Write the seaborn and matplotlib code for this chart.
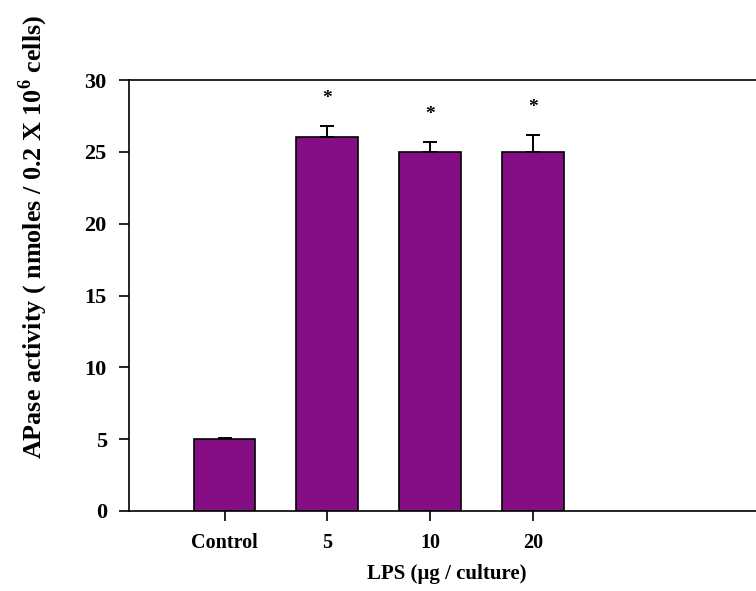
import matplotlib
matplotlib.use("Agg")
import matplotlib.pyplot as plt
import seaborn as sns
import pandas as pd

# LPS dose groups and measured APase activity (mean, upper SD)
groups = ["Control", "5", "10", "20"]
activity = [5.0, 26.0, 25.0, 25.0]
sd = [0.1, 0.8, 0.7, 1.2]
significant = [False, True, True, True]
y_ticks = [0, 5, 10, 15, 20, 25, 30]

sns.set_theme(style="white")
plt.rcParams["font.family"] = ["Liberation Serif", "DejaVu Serif"]
plt.rcParams["font.weight"] = "bold"
plt.rcParams["mathtext.fontset"] = "custom"
plt.rcParams["mathtext.rm"] = "Liberation Serif:bold"
plt.rcParams["mathtext.bf"] = "Liberation Serif:bold"

df = pd.DataFrame({"group": groups, "activity": activity, "sd": sd})

fig = plt.figure(figsize=(7.56, 5.91), dpi=100)
ax = fig.add_axes([0.1706, 0.1354, 0.84, 0.7292])

sns.barplot(data=df, x="group", y="activity", order=groups, color="#850e85",
            saturation=1, width=0.6, edgecolor="black", linewidth=1.2,
            errorbar=None, ax=ax)

# upper-only error bars
ax.errorbar(range(len(groups)), activity, yerr=[[0] * len(sd), sd], fmt="none",
            ecolor="black", elinewidth=1.4, capsize=4.7, capthick=1.4, zorder=3)

for i, (v, e, s) in enumerate(zip(activity, sd, significant)):
    if s:
        ax.text(i, v + e + 1.9, "*", ha="center", va="center",
                fontsize=14, fontweight="bold", color="black")

ax.set_ylim(0, 30)
ax.set_xlim(-0.93, 5.25)
ax.set_yticks(y_ticks)
ax.set_yticklabels([str(t) for t in y_ticks], fontsize=16, fontweight="bold")
ax.set_xticks(range(len(groups)))
ax.set_xticklabels(groups, fontsize=14.5, fontweight="bold")

for side in ["left", "bottom", "top"]:
    ax.spines[side].set_visible(True)
    ax.spines[side].set_color("black")
    ax.spines[side].set_linewidth(1.2)
ax.spines["right"].set_visible(False)
ax.tick_params(axis="both", direction="out", length=7, width=1.2,
               color="black", labelcolor="black", left=True, bottom=True)
ax.tick_params(axis="x", pad=9)
ax.tick_params(axis="y", pad=9)

ax.set_ylabel("")
ax.set_xlabel("LPS (\u00b5g / culture)", fontsize=15, fontweight="bold",
              color="black", labelpad=8)

# y-axis title, centred a little above the middle of the axis
fig.text(33 / 756, 1 - 237 / 591,
         r"APase activity ( nmoles / 0.2 X 10$^{6}$ cells)",
         rotation=90, ha="center", va="center", fontsize=18.8,
         fontweight="bold", color="black")

fig.savefig("out.png", dpi=100)
